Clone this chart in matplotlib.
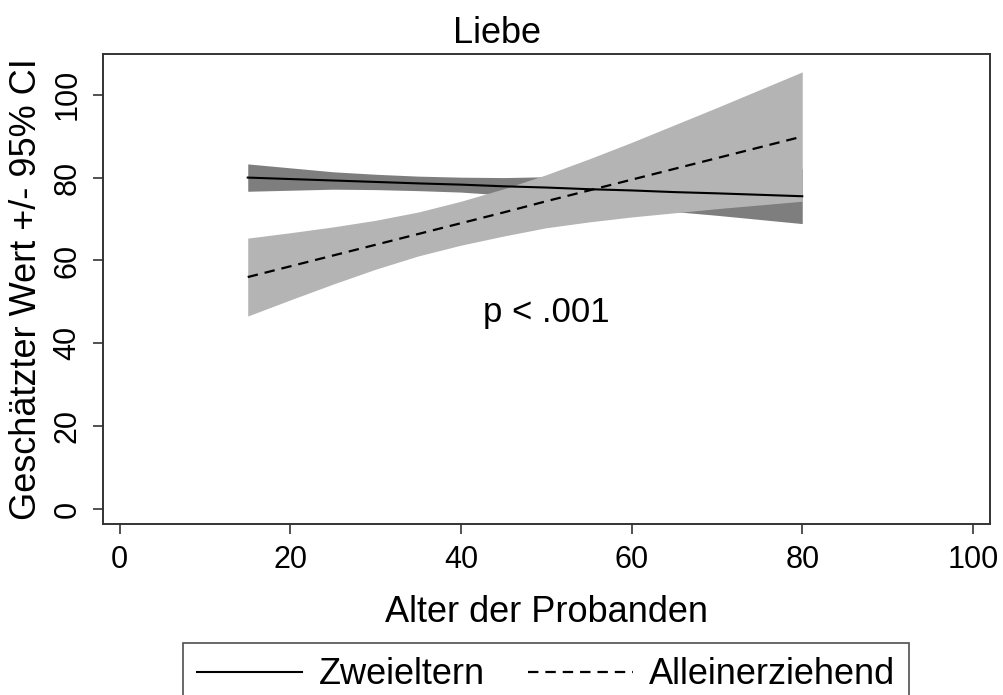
import numpy as np
import matplotlib
matplotlib.use("Agg")
import matplotlib.pyplot as plt

plt.rcParams['font.family'] = ['Liberation Sans', 'DejaVu Sans']
plt.rcParams['lines.scale_dashes'] = False

# Alter der Probanden (Stützstellen)
alter = [15, 20, 25, 30, 35, 40, 45, 50, 55, 60, 65, 70, 75, 80]

# Zweieltern: geschätzter Wert und 95%-KI
zwei_fit = [80.0, 79.65, 79.3, 78.95, 78.6, 78.3, 77.9, 77.6, 77.2, 76.9, 76.5, 76.2, 75.85, 75.5]
zwei_lo = [76.7, 76.95, 77.2, 77.1, 76.85, 76.5, 75.8, 75.0, 74.0, 73.0, 71.8, 70.9, 69.9, 68.9]
zwei_hi = [83.3, 82.35, 81.4, 80.8, 80.35, 80.1, 80.0, 80.2, 80.4, 80.8, 81.2, 81.5, 81.8, 82.1]

# Alleinerziehend: geschätzter Wert und 95%-KI
allein_fit = [56.0, 58.6, 61.2, 63.8, 66.4, 69.0, 71.6, 74.3, 76.9, 79.5, 82.1, 84.7, 87.3, 89.9]
allein_lo = [46.6, 50.5, 54.3, 57.9, 61.1, 63.7, 65.9, 67.9, 69.3, 70.5, 71.5, 72.5, 73.4, 74.3]
allein_hi = [65.4, 66.7, 68.1, 69.7, 71.7, 74.3, 77.3, 80.7, 84.5, 88.5, 92.7, 96.9, 101.2, 105.5]

ticks = [0, 20, 40, 60, 80, 100]

fig = plt.figure(figsize=(10.04, 6.95), dpi=100)
ax = fig.add_axes([0.1023, 0.2465, 0.986 - 0.1023, 0.9216 - 0.2465])

ax.fill_between(alter, zwei_lo, zwei_hi, color='#7e7e7e', linewidth=0)
ax.fill_between(alter, allein_lo, allein_hi, color='#b4b4b4', linewidth=0)
ax.plot(alter, zwei_fit, color='black', lw=1.5, label='Zweieltern')
ax.plot(alter, allein_fit, color='black', lw=1.6, dashes=(7.5, 5), label='Alleinerziehend')

ax.text(50, 47.5, 'p < .001', ha='center', va='center', fontsize=25)

ax.set_xlim(-2, 102)
ax.set_ylim(-3.5, 109.7)
ax.set_xticks(ticks)
ax.set_yticks(ticks)
ax.tick_params(axis='both', direction='out', length=7.5, width=1.2,
               color='#333333', labelsize=22, pad=8)
ax.tick_params(axis='y', labelrotation=90, pad=7)
for lbl in ax.get_yticklabels():
    lbl.set_va('center')
for s in ax.spines.values():
    s.set_linewidth(1.4)
    s.set_color('#333333')

ax.set_xlabel('Alter der Probanden', fontsize=26, labelpad=14)
ax.set_ylabel('Geschätzter Wert +/- 95% CI', fontsize=26, labelpad=6)

fig.text(0.495, 1 - 42.7 / 695, 'Liebe', ha='center', va='baseline', fontsize=26)

leg = fig.legend(loc='upper center', bbox_to_anchor=(0.544, 1 - 643 / 695),
                 ncol=2, fontsize=26, frameon=True, fancybox=False,
                 handlelength=2.9, handletextpad=0.45, columnspacing=1.2,
                 borderpad=0.4, borderaxespad=0)
leg.get_frame().set_edgecolor('#222222')
leg.get_frame().set_linewidth(1.2)

fig.savefig('out.png', dpi=100)
